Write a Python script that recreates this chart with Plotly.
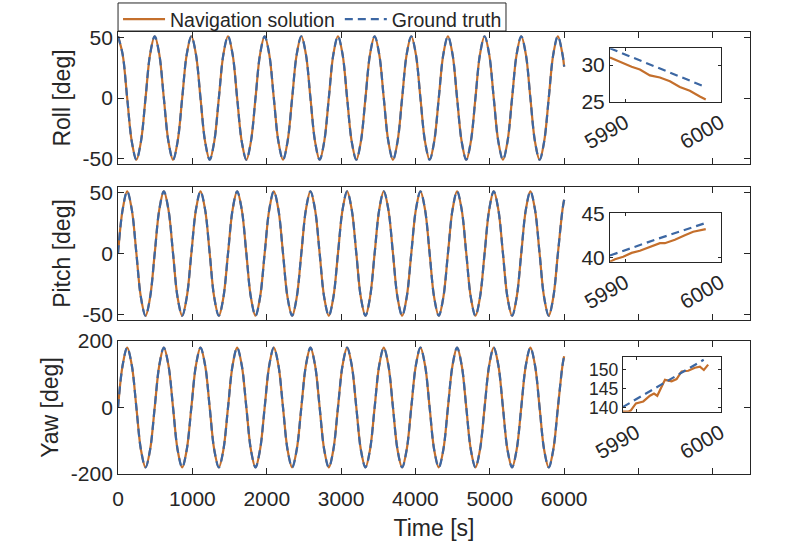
"""Attitude (roll / pitch / yaw) of the navigation solution against ground truth."""

import plotly.graph_objects as go

t_main = [0, 62, 123, 185, 247, 308, 370, 431, 493, 555, 616, 678, 740, 801, 863, 924,
          986, 1048, 1109, 1171, 1233, 1294, 1356, 1417, 1479, 1541, 1602, 1664, 1726, 1787, 1849, 1910,
          1972, 2034, 2095, 2157, 2219, 2280, 2342, 2403, 2465, 2527, 2588, 2650, 2712, 2773, 2835, 2896,
          2958, 3020, 3081, 3143, 3205, 3266, 3328, 3389, 3451, 3513, 3574, 3636, 3698, 3759, 3821, 3882,
          3944, 4006, 4067, 4129, 4191, 4252, 4314, 4375, 4437, 4499, 4560, 4622, 4684, 4745, 4807, 4868,
          4930, 4992, 5053, 5115, 5177, 5238, 5300, 5361, 5423, 5485, 5546, 5608, 5670, 5731, 5793, 5854,
          5916, 5978, 6000]
roll_main = [51, 36, 0, -36, -51, -36, 0, 36, 51, 36, 0, -36, -51, -36, 0, 36,
             51, 36, 0, -36, -51, -36, 0, 36, 51, 36, 0, -36, -51, -36, 0, 36,
             51, 36, 0, -36, -51, -36, 0, 36, 51, 36, 0, -36, -51, -36, 0, 36,
             51, 36, 0, -36, -51, -36, 0, 36, 51, 36, 0, -36, -51, -36, 0, 36,
             51, 36, 0, -36, -51, -36, 0, 36, 51, 36, 0, -36, -51, -36, 0, 36,
             51, 36, 0, -36, -51, -36, 0, 36, 51, 36, 0, -36, -51, -36, 0, 36,
             51, 36, 26]
pitch_main = [0, 36, 51, 36, 0, -36, -51, -36, 0, 36, 51, 36, 0, -36, -51, -36,
              0, 36, 51, 36, 0, -36, -51, -36, 0, 36, 51, 36, 0, -36, -51, -36,
              0, 36, 51, 36, 0, -36, -51, -36, 0, 36, 51, 36, 0, -36, -51, -36,
              0, 36, 51, 36, 0, -36, -51, -36, 0, 36, 51, 36, 0, -36, -51, -36,
              0, 36, 51, 36, 0, -36, -51, -36, 0, 36, 51, 36, 0, -36, -51, -36,
              0, 36, 51, 36, 0, -36, -51, -36, 0, 36, 51, 36, 0, -36, -51, -36,
              0, 36, 44]
yaw_main = [0, 127, 180, 127, 0, -127, -180, -127, 0, 127, 180, 127, 0, -127, -180, -127,
            0, 127, 180, 127, 0, -127, -180, -127, 0, 127, 180, 127, 0, -127, -180, -127,
            0, 127, 180, 127, 0, -127, -180, -127, 0, 127, 180, 127, 0, -127, -180, -127,
            0, 127, 180, 127, 0, -127, -180, -127, 0, 127, 180, 127, 0, -127, -180, -127,
            0, 127, 180, 127, 0, -127, -180, -127, 0, 127, 180, 127, 0, -127, -180, -127,
            0, 127, 180, 127, 0, -127, -180, -127, 0, 127, 180, 127, 0, -127, -180, -127,
            0, 127, 154]

# Zoomed views of the last seconds
t_roll_nav = [5988.4, 5989.45, 5990.67, 5991.54, 5992.59, 5993.64, 5994.69, 5995.73, 5996.78, 5997.83, 5998.45]
roll_nav = [31.05, 30.45, 29.77, 29.4, 28.6, 28.3, 27.8, 27.0, 26.5, 25.7, 25.3]
t_roll_gt = [5988.4, 5993.4, 5998.45]
roll_gt = [32.3, 29.7, 27.0]

t_pitch_nav = [5988.4, 5988.92, 5989.79, 5990.67, 5991.54, 5992.59, 5993.64, 5994.16, 5995.21, 5996.26,
               5997.13, 5998.45]
pitch_nav = [39.5, 39.77, 40.07, 40.5, 40.75, 41.2, 41.6, 41.6, 42.0, 42.5, 42.9, 43.2]
t_pitch_gt = [5988.4, 5993.4, 5998.45]
pitch_gt = [40.2, 42.1, 43.9]

t_yaw_nav = [5988.4, 5989.06, 5989.35, 5989.97, 5990.84, 5991.63, 5992.11, 5992.5, 5993.41, 5994.2,
             5994.79, 5995.38, 5996.17, 5996.96, 5997.55, 5998.02, 5998.53]
yaw_nav = [138.9, 138.9, 139.2, 141.1, 141.6, 143.1, 143.7, 143.1, 147.3, 146.9,
           147.5, 149.5, 149.7, 150.5, 150.8, 149.9, 151.3]
t_yaw_gt = [5988.4, 5993.2, 5998.0]
yaw_gt = [140.1, 146.4, 152.6]

# Tick labels
time_ticks = [0, 1000, 2000, 3000, 4000, 5000, 6000, 7000, 8000]
time_labels = ["0", "1000", "2000", "3000", "4000", "5000", "6000", "", ""]
angle_ticks = [-50, 0, 50]
angle_labels = ["-50", "0", "50"]
yaw_ticks = [-200, 0, 200]
yaw_labels = ["-200", "0", "200"]
zoom_time_ticks = [5990, 6000]
zoom_time_labels = ["5990", "6000"]
roll_zoom_ticks = [25, 30]
pitch_zoom_ticks = [40, 45]
yaw_zoom_ticks = [140, 145, 150]

NAV = "#C46F2C"
GT = "#3C67A3"
INK = "#262626"
FONT = "Liberation Sans, Arial, sans-serif"

fig = go.Figure()

panels = [
    (t_main, roll_main, "x", "y"),
    (t_main, pitch_main, "x2", "y2"),
    (t_main, yaw_main, "x3", "y3"),
]
for i, (t, v, xa, ya) in enumerate(panels):
    fig.add_trace(go.Scatter(x=t, y=v, xaxis=xa, yaxis=ya, mode="lines",
                             line=dict(color=NAV, width=2.2, shape="spline"),
                             name="Navigation solution", legendgroup="nav", showlegend=(i == 0)))
    fig.add_trace(go.Scatter(x=t, y=v, xaxis=xa, yaxis=ya, mode="lines",
                             line=dict(color=GT, width=2.2, shape="spline", dash="8px,5px"),
                             name="Ground truth", legendgroup="gt", showlegend=(i == 0)))

zooms = [
    (t_roll_nav, roll_nav, t_roll_gt, roll_gt, "x4", "y4"),
    (t_pitch_nav, pitch_nav, t_pitch_gt, pitch_gt, "x5", "y5"),
    (t_yaw_nav, yaw_nav, t_yaw_gt, yaw_gt, "x6", "y6"),
]
for tn, vn, tg, vg, xa, ya in zooms:
    fig.add_trace(go.Scatter(x=tn, y=vn, xaxis=xa, yaxis=ya, mode="lines",
                             line=dict(color=NAV, width=2.2), showlegend=False))
    fig.add_trace(go.Scatter(x=tg, y=vg, xaxis=xa, yaxis=ya, mode="lines",
                             line=dict(color=GT, width=2.2, dash="8px,5px"), showlegend=False))


def frame(**kw):
    # boxed MATLAB-like axis with inward ticks on every side
    base = dict(showline=True, mirror="ticks", linecolor=INK, linewidth=1, ticks="inside",
                tickcolor=INK, showgrid=False, zeroline=False, automargin=False,
                tickfont=dict(size=21, color=INK, family=FONT))
    base.update(kw)
    return base


main_x = [0.1496, 0.9506]
rows = [(0.7029, 0.9420), (0.4203, 0.6612), (0.1413, 0.3822)]
ytitles = ["Roll [deg]", "Pitch [deg]", "Yaw [deg]"]

layout = dict(
    width=789, height=552,
    margin=dict(l=0, r=0, t=0, b=0),
    paper_bgcolor="white", plot_bgcolor="white",
    font=dict(family=FONT, color=INK, size=21),
    legend=dict(orientation="h", x=0.1496, y=1.0, xanchor="left", yanchor="top",
                borderwidth=0, bgcolor="rgba(0,0,0,0)", itemwidth=42,
                font=dict(size=19.5, color=INK, family=FONT)),
    # the legend frame, kept tighter than plotly's own legend box
    shapes=[dict(type="rect", xref="paper", yref="paper", x0=0.1496, x1=0.6413,
                 y0=0.9438, y1=0.9946, line=dict(color=INK, width=1), fillcolor="white",
                 layer="below")],
)

for i in range(3):
    xn = "xaxis" if i == 0 else f"xaxis{i + 1}"
    yn = "yaxis" if i == 0 else f"yaxis{i + 1}"
    yref = "y" if i == 0 else f"y{i + 1}"
    xref = "x" if i == 0 else f"x{i + 1}"
    last = i == 2
    layout[xn] = frame(domain=main_x, anchor=yref, range=[0, 8500], ticklen=6,
                       tickvals=time_ticks, ticktext=time_labels, showticklabels=last,
                       ticklabelstandoff=6,
                       title=dict(text="Time [s]" if last else "", standoff=10,
                                  font=dict(size=23, color=INK, family=FONT)))
    if i == 2:
        yr, tv, tt = [-200, 200], yaw_ticks, yaw_labels
    else:
        yr, tv, tt = [-54.5, 54.5], angle_ticks, angle_labels
    layout[yn] = frame(domain=rows[i], anchor=xref, range=yr, ticklen=6,
                       tickvals=tv, ticktext=tt,
                       title=dict(text=ytitles[i], standoff=5,
                                  font=dict(size=23, color=INK, family=FONT)))

zoom_boxes = [
    ([0.7731, 0.9138], (0.8158, 0.9125), [25.0, 32.3], roll_zoom_ticks, 21),
    ([0.7731, 0.9138], (0.5259, 0.6136), [39.5, 45.0], pitch_zoom_ticks, 21),
    ([0.7892, 0.9138], (0.2542, 0.3524), [138.9, 153.2], yaw_zoom_ticks, 17.5),
]
for j, (xd, yd, yr, yt, fs) in enumerate(zoom_boxes):
    k = j + 4
    layout[f"xaxis{k}"] = frame(domain=xd, anchor=f"y{k}", range=[5988.4, 6000.05], ticklen=3,
                                tickvals=zoom_time_ticks, ticktext=zoom_time_labels, tickangle=-30)
    layout[f"yaxis{k}"] = frame(domain=list(yd), anchor=f"x{k}", range=yr, ticklen=3,
                                tickvals=yt, ticktext=[str(v) for v in yt],
                                tickfont=dict(size=fs, color=INK, family=FONT))

fig.update_layout(**layout)
# drop the browser's default body margin so the figure sits at the page corner
fig.write_html("out.html", config={"displayModeBar": False},
               post_script="document.body.style.margin = '0';")
